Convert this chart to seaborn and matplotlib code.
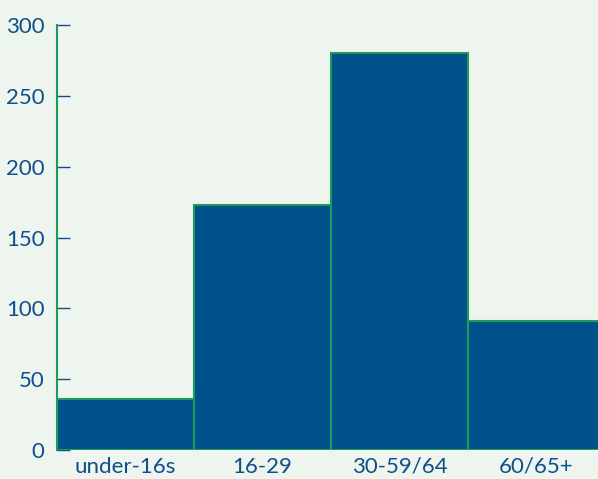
import matplotlib
matplotlib.use("Agg")
import matplotlib.pyplot as plt
import seaborn as sns
import pandas as pd

categories = ["under-16s", "16-29", "30-59/64", "60/65+"]
values = [36, 173, 280, 91]
yticks = [0, 50, 100, 150, 200, 250, 300]

bg = "#eef4ee"
bar_color = "#005189"
edge_green = "#1f9a5c"
text_blue = "#0f4f8a"

sns.set_theme(style="white")
plt.rcParams["font.family"] = ["Lato", "DejaVu Sans"]

fig = plt.figure(figsize=(5.98, 4.79), dpi=100, facecolor=bg)
ax = fig.add_axes([57 / 598, 29 / 479, 1 - 57 / 598, 425 / 479])
ax.set_facecolor(bg)

df = pd.DataFrame({"group": categories, "count": values})
sns.barplot(data=df, x="group", y="count", order=categories, width=1.0,
            color=bar_color, saturation=1, edgecolor=edge_green,
            linewidth=1.5, ax=ax)

ax.set_xlim(-0.5, 3.45)
ax.set_ylim(0, 300)
ax.set_yticks(yticks)
ax.set_xlabel("")
ax.set_ylabel("")

for side in ["top", "right", "bottom"]:
    ax.spines[side].set_visible(False)
ax.spines["left"].set_color(edge_green)
ax.spines["left"].set_linewidth(1.5)

ax.tick_params(axis="y", direction="in", length=9.5, width=1, color=text_blue,
               pad=9, labelsize=16, labelcolor=text_blue, left=True)
ax.tick_params(axis="x", length=0, pad=5, labelsize=16, labelcolor=text_blue)

fig.savefig("out.png", dpi=100, facecolor=bg)
